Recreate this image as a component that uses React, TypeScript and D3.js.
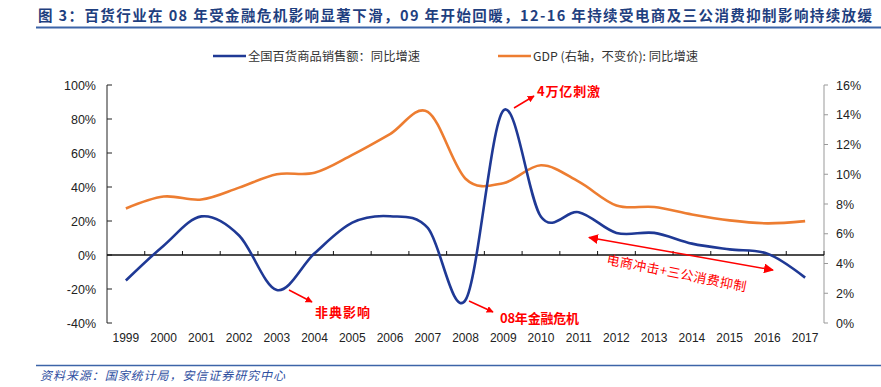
import React, { useEffect, useRef } from "react";
import * as d3 from "d3";

const years = ["1999", "2000", "2001", "2002", "2003", "2004", "2005", "2006", "2007", "2008",
  "2009", "2010", "2011", "2012", "2013", "2014", "2015", "2016", "2017"];
// 全国百货商品销售额 同比增速 (%), left axis
const salesGrowth = [-15, 5.5, 22.7, 11.5, -20.6, 1, 19, 22.8, 15.9, -26.5,
  84.9, 22.5, 25.2, 13, 13, 6.7, 3.3, 0.8, -13.3];
// GDP 不变价 同比增速 (%), right axis
const gdpGrowth = [7.7, 8.5, 8.3, 9.1, 10.0, 10.1, 11.3, 12.7, 14.2, 9.7,
  9.4, 10.6, 9.5, 7.9, 7.8, 7.3, 6.9, 6.7, 6.85];
const leftTicks = [-40, -20, 0, 20, 40, 60, 80, 100];
const rightTicks = [0, 2, 4, 6, 8, 10, 12, 14, 16];

const titleText = "图 3：百货行业在 08 年受金融危机影响显著下滑，09 年开始回暖，12-16 年持续受电商及三公消费抑制影响持续放缓";
const sourceText = "资料来源：国家统计局，安信证券研究中心";
const legendNames = ["全国百货商品销售额：同比增速", "GDP (右轴，不变价): 同比增速"];

const BLUE = "#1f3995";
const ORANGE = "#ed7d31";
const RED = "#ff0000";
const CJK = "'Noto Sans CJK SC', sans-serif";
const LATIN = "'Liberation Sans', Arial, sans-serif";

function Chart() {
  const ref = useRef<SVGSVGElement | null>(null);

  useEffect(() => {
    const svg = d3.select(ref.current);
    svg.selectAll("*").remove();

    const left = 107, right = 824, top = 85, bottom = 323;

    const x = d3.scaleBand().domain(years).range([left, right]).padding(0);
    const cx = (d: string) => (x(d) as number) + x.bandwidth() / 2;
    const yL = d3.scaleLinear().domain([-40, 100]).range([bottom, top]);
    const yR = d3.scaleLinear().domain([0, 16]).range([bottom, top]);

    const defs = svg.append("defs");
    defs.append("marker")
      .attr("id", "head")
      .attr("viewBox", "0 0 10 10")
      .attr("refX", 9).attr("refY", 5)
      .attr("markerWidth", 7).attr("markerHeight", 7)
      .attr("markerUnits", "userSpaceOnUse")
      .attr("orient", "auto-start-reverse")
      .append("path").attr("d", "M0,0 L10,5 L0,10 z").attr("fill", RED);
    defs.append("marker")
      .attr("id", "head2")
      .attr("viewBox", "0 0 10 10")
      .attr("refX", 9).attr("refY", 5)
      .attr("markerWidth", 10).attr("markerHeight", 10)
      .attr("markerUnits", "userSpaceOnUse")
      .attr("orient", "auto-start-reverse")
      .append("path").attr("d", "M0,0 L10,5 L0,10 z").attr("fill", RED);

    // title
    svg.append("text")
      .attr("x", 38).attr("y", 21)
      .attr("font-family", CJK).attr("font-weight", "bold").attr("font-size", 14.5)
      .attr("fill", "#1f3f7f")
      .attr("textLength", 834).attr("lengthAdjust", "spacing")
      .text(titleText);
    svg.append("line")
      .attr("x1", 36).attr("x2", 881).attr("y1", 27.5).attr("y2", 27.5)
      .attr("stroke", "#3c64a8").attr("stroke-width", 1.8);

    // legend
    const legendX = [213, 498];
    const legendW = [172, 165];
    [BLUE, ORANGE].forEach((c, i) => {
      svg.append("line")
        .attr("x1", legendX[i]).attr("x2", legendX[i] + 33)
        .attr("y1", 56).attr("y2", 56)
        .attr("stroke", c).attr("stroke-width", 2.5);
      svg.append("text")
        .attr("x", legendX[i] + 35).attr("y", 60.5)
        .attr("font-family", CJK).attr("font-size", 12).attr("fill", "#333")
        .attr("textLength", legendW[i]).attr("lengthAdjust", "spacingAndGlyphs")
        .text(legendNames[i]);
    });

    // left axis
    svg.append("line")
      .attr("x1", left).attr("x2", left).attr("y1", top).attr("y2", bottom)
      .attr("stroke", "#222").attr("stroke-width", 1);
    leftTicks.forEach(t => {
      svg.append("line")
        .attr("x1", left).attr("x2", left + 5).attr("y1", yL(t)).attr("y2", yL(t))
        .attr("stroke", "#222");
      svg.append("text")
        .attr("x", 96).attr("y", yL(t) + 4.5)
        .attr("text-anchor", "end")
        .attr("font-family", LATIN).attr("font-size", 12.5).attr("fill", "#222")
        .text(`${t}%`);
    });

    // right axis
    svg.append("line")
      .attr("x1", right).attr("x2", right).attr("y1", top).attr("y2", bottom)
      .attr("stroke", "#999").attr("stroke-width", 1);
    rightTicks.forEach(t => {
      svg.append("line")
        .attr("x1", right).attr("x2", right + 4).attr("y1", yR(t)).attr("y2", yR(t))
        .attr("stroke", "#999");
      svg.append("text")
        .attr("x", 836).attr("y", yR(t) + 4.5)
        .attr("font-family", LATIN).attr("font-size", 12.5).attr("fill", "#222")
        .text(`${t}%`);
    });

    // category axis at 0%
    const y0 = yL(0);
    svg.append("line")
      .attr("x1", left).attr("x2", right).attr("y1", y0).attr("y2", y0)
      .attr("stroke", "#111").attr("stroke-width", 1.3);
    years.forEach((yr, i) => {
      const bx = x(yr) as number;
      if (i > 0) {
        svg.append("line")
          .attr("x1", bx).attr("x2", bx).attr("y1", y0).attr("y2", y0 - 4)
          .attr("stroke", "#111");
      }
      svg.append("text")
        .attr("x", cx(yr)).attr("y", 342)
        .attr("text-anchor", "middle")
        .attr("font-family", LATIN).attr("font-size", 12).attr("fill", "#222")
        .text(yr);
    });
    svg.append("line")
      .attr("x1", right).attr("x2", right).attr("y1", y0).attr("y2", y0 - 4)
      .attr("stroke", "#111");

    // series
    const curve = d3.curveCardinal.tension(0);
    const lineL = d3.line<number>().x((_, i) => cx(years[i])).y(d => yL(d)).curve(curve);
    const lineR = d3.line<number>().x((_, i) => cx(years[i])).y(d => yR(d)).curve(curve);
    svg.append("path").attr("d", lineR(gdpGrowth) as string)
      .attr("fill", "none").attr("stroke", ORANGE).attr("stroke-width", 2.6);
    svg.append("path").attr("d", lineL(salesGrowth) as string)
      .attr("fill", "none").attr("stroke", BLUE).attr("stroke-width", 2.6);

    // annotations
    const arrow = (x1: number, y1: number, x2: number, y2: number) =>
      svg.append("line")
        .attr("x1", x1).attr("y1", y1).attr("x2", x2).attr("y2", y2)
        .attr("stroke", RED).attr("stroke-width", 1.5)
        .attr("marker-end", "url(#head)");
    const note = (tx: number, ty: number, s: string, w: number) =>
      svg.append("text")
        .attr("x", tx).attr("y", ty)
        .attr("font-family", CJK).attr("font-weight", "bold").attr("font-size", 13)
        .attr("fill", RED)
        .attr("textLength", w).attr("lengthAdjust", "spacing")
        .text(s);

    arrow(289, 290, 312, 302);
    note(315, 317, "非典影响", 55);
    arrow(469, 301, 493, 312);
    note(500, 323, "08年金融危机", 79);
    arrow(514, 108, 534, 96);
    note(537, 96, "4万亿刺激", 63);

    svg.append("line")
      .attr("x1", 589).attr("y1", 237.5).attr("x2", 773).attr("y2", 270)
      .attr("stroke", RED).attr("stroke-width", 1.5)
      .attr("marker-start", "url(#head2)")
      .attr("marker-end", "url(#head2)");
    svg.append("text")
      .attr("transform", "translate(606,264) rotate(11.2)")
      .attr("font-family", CJK).attr("font-size", 13).attr("fill", RED)
      .attr("textLength", 142).attr("lengthAdjust", "spacing")
      .text("电商冲击+三公消费抑制");

    // footer
    svg.append("line")
      .attr("x1", 36).attr("x2", 881).attr("y1", 365.5).attr("y2", 365.5)
      .attr("stroke", "#3c64a8").attr("stroke-width", 1.5);
    svg.append("text")
      .attr("x", 40).attr("y", 380)
      .attr("font-family", CJK).attr("font-style", "italic").attr("font-size", 12)
      .attr("fill", "#2f4f9f")
      .attr("textLength", 245).attr("lengthAdjust", "spacing")
      .text(sourceText);
  }, []);

  return (
    <svg
      ref={ref}
      width={881}
      height={387}
      style={{ position: "absolute", left: 0, top: 0, background: "#fff" }}
    />
  );
}

export default function App() {
  return <Chart />;
}
